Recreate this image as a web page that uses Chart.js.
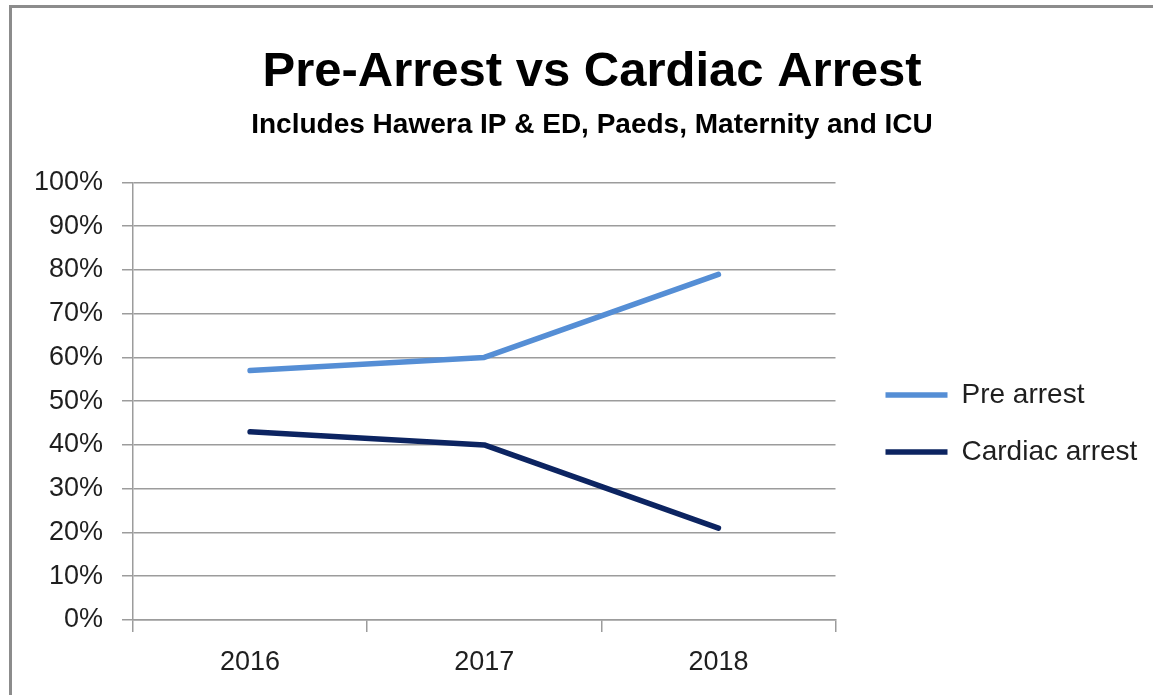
<!DOCTYPE html>
<html>
<head>
<meta charset="utf-8">
<script src="https://cdn.jsdelivr.net/npm/chart.js"></script>
<style>
  html, body { margin: 0; padding: 0; background: #fff; }
  #wrap { position: relative; width: 1153px; height: 695px; overflow: hidden; }
  #frame {
    position: absolute; left: 9px; top: 5px; width: 1200px; height: 800px;
    border-top: 3px solid #8c8c8c; border-left: 3px solid #8c8c8c;
  }
  #chart { position: absolute; left: 0; top: 0; }
</style>
</head>
<body>
<div id="wrap">
  <div id="frame"></div>
  <canvas id="chart" width="1153" height="695"></canvas>
</div>
<script>
  const years = ["2016", "2017", "2018"];
  const preArrest = [57, 60, 79];
  const cardiacArrest = [43, 40, 21];

  const gridColor = "#9c9c9c";
  const textColor = "#1f1f1f";
  const fontFamily = "'Liberation Sans', Arial, sans-serif";

  // nudge legend right/down and the titles right, like the original
  const boxShift = {
    id: "boxShift",
    afterLayout(chart) {
      const lg = chart.legend;
      if (lg) {
        lg.left += 21;
        lg.right = chart.width;
        lg.top += 76; lg.bottom += 76;
      }
      chart.boxes.forEach(b => {
        if (b.position === "top" && b.options && b.options.text) {
          b.left += 25; b.right += 25;
        }
      });
    }
  };

  new Chart(document.getElementById("chart").getContext("2d"), {
    type: "line",
    data: {
      labels: years,
      datasets: [
        {
          label: "Pre arrest",
          data: preArrest,
          borderColor: "#558ed5",
          backgroundColor: "#558ed5",
          borderWidth: 5.5,
          borderCapStyle: "round",
          borderJoinStyle: "round",
          pointRadius: 0,
          tension: 0
        },
        {
          label: "Cardiac arrest",
          data: cardiacArrest,
          borderColor: "#0c2461",
          backgroundColor: "#0c2461",
          borderWidth: 5.5,
          borderCapStyle: "round",
          borderJoinStyle: "round",
          pointRadius: 0,
          tension: 0
        }
      ]
    },
    options: {
      responsive: false,
      animation: false,
      layout: { padding: { left: 30, right: 49, top: 0, bottom: 0 } },
      plugins: {
        title: {
          display: true,
          text: "Pre-Arrest vs Cardiac Arrest",
          color: "#000",
          font: { family: fontFamily, size: 49, weight: "bold" },
          padding: { top: 43, bottom: 7 }
        },
        subtitle: {
          display: true,
          text: "Includes Hawera IP & ED, Paeds, Maternity and ICU",
          color: "#000",
          font: { family: fontFamily, size: 28, weight: "bold" },
          padding: { top: 0, bottom: 40 }
        },
        legend: {
          position: "right",
          labels: {
            usePointStyle: true,
            pointStyle: "line",
            pointStyleWidth: 62,
            padding: 29,
            color: textColor,
            font: { family: fontFamily, size: 28 }
          }
        },
        tooltip: { enabled: false }
      },
      scales: {
        x: {
          offset: true,
          grid: {
            offset: true,
            drawOnChartArea: false,
            tickLength: 12,
            color: gridColor,
            lineWidth: 1.5
          },
          border: { color: gridColor, width: 1.5 },
          ticks: {
            color: textColor,
            padding: 14,
            font: { family: fontFamily, size: 27 }
          },
          afterFit(scale) { scale.height = 75; }
        },
        y: {
          min: 0,
          max: 100,
          grid: {
            tickLength: 11,
            color: gridColor,
            lineWidth: 1.5
          },
          border: { color: gridColor, width: 1.5 },
          ticks: {
            stepSize: 10,
            color: textColor,
            padding: 19,
            font: { family: fontFamily, size: 27 },
            callback: v => v + "%"
          },
          afterFit(scale) { scale.width = 103; }
        }
      }
    },
    plugins: [boxShift]
  });
</script>
</body>
</html>
